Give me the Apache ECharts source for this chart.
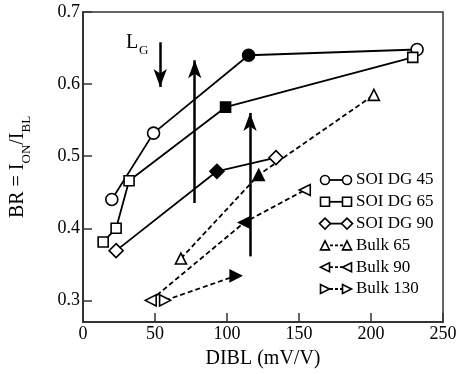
<!DOCTYPE html>
<html><head><meta charset="utf-8">
<script src="https://cdn.jsdelivr.net/npm/echarts@6/dist/echarts.min.js"></script>
<style>html,body{margin:0;padding:0;background:#fff}#c{width:460px;height:374px}</style>
</head><body><div id="c"></div>
<script>
// ---- data ----
const seriesNames = ['SOI DG 45', 'SOI DG 65', 'SOI DG 90', 'Bulk 65', 'Bulk 90', 'Bulk 130'];
const soi45X = [20, 49, 115, 232];
const soi45Y = [0.44, 0.532, 0.64, 0.648];
const soi65X = [14, 23, 32, 99, 229];
const soi65Y = [0.381, 0.40, 0.466, 0.568, 0.637];
const soi90X = [23, 93, 134];
const soi90Y = [0.369, 0.479, 0.498];
const bulk65X = [68, 122, 202];
const bulk65Y = [0.358, 0.474, 0.585];
const bulk90X = [47, 112, 154];
const bulk90Y = [0.30, 0.408, 0.453];
const bulk130X = [57, 106];
const bulk130Y = [0.30, 0.334];
const filledPoint = [2, 3, 1, 1, 1, 1];
const xTickValues = [0, 50, 100, 150, 200, 250];
const yTickValues = [0.3, 0.4, 0.5, 0.6, 0.7];
const arrowX = [77.6, 116, 53.6];
const arrowFrom = [0.435, 0.361, 0.658];
const arrowTo = [0.633, 0.560, 0.596];

// ---- styling ----
const xsAll = [soi45X, soi65X, soi90X, bulk65X, bulk90X, bulk130X];
const ysAll = [soi45Y, soi65Y, soi90Y, bulk65Y, bulk90Y, bulk130Y];
const styles = [
  {symbol: 'circle', size: 12, rotate: 0, dashed: false},
  {symbol: 'rect', size: 10, rotate: 0, dashed: false},
  {symbol: 'diamond', size: 14, rotate: 0, dashed: false},
  {symbol: 'triangle', size: 11, rotate: 0, dashed: true},
  {symbol: 'triangle', size: 11, rotate: 90, dashed: true},
  {symbol: 'triangle', size: 11, rotate: -90, dashed: true}
];
const FONT = 'Liberation Serif';

const series = seriesNames.map((name, i) => ({
  name: name,
  type: 'line',
  symbol: styles[i].symbol,
  symbolSize: styles[i].size,
  symbolRotate: styles[i].rotate,
  showAllSymbol: true,
  silent: true,
  lineStyle: {color: '#000', width: styles[i].dashed ? 1.8 : 1.8, type: styles[i].dashed ? [5, 3] : 'solid'},
  itemStyle: {color: '#fff', borderColor: '#000', borderWidth: 1.6},
  data: xsAll[i].map((x, j) => j === filledPoint[i]
    ? {value: [x, ysAll[i][j]], itemStyle: {color: '#000'}}
    : [x, ysAll[i][j]]),
  z: 3
}));

series.push({
  type: 'line', data: [], silent: true,
  markLine: {
    silent: true,
    symbol: ['none', 'arrow'],
    symbolSize: [10, 18],
    label: {show: false},
    lineStyle: {color: '#000', width: 2.5, type: 'solid'},
    data: arrowX.map((x, k) => [{coord: [x, arrowFrom[k]]}, {coord: [x, arrowTo[k]]}])
  }
});

// legend drawn as graphic
const legendTop = 180, legendStep = 21.8;
const graphics = [];
function markerShape(kind, rot, cx, cy, s) {
  const st = {fill: '#fff', stroke: '#000', lineWidth: 1.6};
  const h = s / 2;
  if (kind === 'circle') return {type: 'circle', shape: {cx: cx, cy: cy, r: h}, style: st};
  if (kind === 'rect') return {type: 'rect', shape: {x: cx - h, y: cy - h, width: s, height: s}, style: st};
  if (kind === 'diamond') return {type: 'polygon', shape: {points: [[cx, cy - h - 1], [cx + h + 1, cy], [cx, cy + h + 1], [cx - h - 1, cy]]}, style: st};
  let pts;
  if (rot === 0) pts = [[cx, cy - h], [cx + h, cy + h], [cx - h, cy + h]];
  else if (rot === 90) pts = [[cx - h, cy], [cx + h, cy - h], [cx + h, cy + h]];
  else pts = [[cx + h, cy], [cx - h, cy - h], [cx - h, cy + h]];
  return {type: 'polygon', shape: {points: pts}, style: st};
}
seriesNames.forEach((name, i) => {
  const y = legendTop + i * legendStep;
  graphics.push({type: 'line', shape: {x1: 325, y1: y, x2: 347, y2: y},
    style: {stroke: '#000', lineWidth: 1.8, lineDash: styles[i].dashed ? [3, 2] : null}, z: 10});
  graphics.push(Object.assign(markerShape(styles[i].symbol, styles[i].rotate, 325, y, 9), {z: 11}));
  graphics.push(Object.assign(markerShape(styles[i].symbol, styles[i].rotate, 347, y, 9), {z: 11}));
  graphics.push({type: 'text', x: 356, y: y, z: 11,
    style: {text: name, fontSize: 17, fontFamily: FONT, fill: '#000', verticalAlign: 'middle', align: 'left'}});
});
graphics.push({type: 'text', x: 126, y: 33, style: {text: 'L', fontSize: 20, fontFamily: FONT, fill: '#000'}});
graphics.push({type: 'text', x: 139, y: 44, style: {text: 'G', fontSize: 13, fontFamily: FONT, fill: '#000'}});

const chart = echarts.init(document.getElementById('c'), null, {renderer: 'canvas'});
chart.setOption({
  animation: false,
  backgroundColor: '#fff',
  grid: {left: 79, right: 17, top: 12, bottom: 52, show: true, borderColor: '#333', borderWidth: 1.5, backgroundColor: 'transparent'},
  xAxis: {
    type: 'value', min: 0, max: 250, interval: 50,
    name: 'DIBL (mV/V)', nameLocation: 'middle', nameGap: 27,
    nameTextStyle: {fontFamily: FONT, fontSize: 20, color: '#000'},
    axisLine: {lineStyle: {color: '#333', width: 2}},
    axisTick: {inside: true, length: 9, lineStyle: {color: '#333', width: 1.5}},
    axisLabel: {fontFamily: FONT, fontSize: 18, color: '#000', margin: 3, formatter: v => String(v)},
    splitLine: {show: false}
  },
  yAxis: {
    type: 'value', min: 0.27, max: 0.7,
    name: '{n|BR = I}{s|ON}{n|/I}{s|BL}', nameLocation: 'middle', nameGap: 50, nameRotate: 90,
    nameTextStyle: {fontFamily: FONT, color: '#000',
      rich: {
        n: {fontFamily: FONT, fontSize: 20, color: '#000', verticalAlign: 'bottom', padding: [0, 0, 5, 0]},
        s: {fontFamily: FONT, fontSize: 13, color: '#000', verticalAlign: 'bottom'}
      }},
    axisLine: {lineStyle: {color: '#333', width: 2}},
    axisTick: {inside: true, length: 9, customValues: yTickValues, lineStyle: {color: '#333', width: 1.5}},
    axisLabel: {fontFamily: FONT, fontSize: 18, color: '#000', margin: 3, customValues: yTickValues, formatter: v => v.toFixed(1)},
    splitLine: {show: false}
  },
  series: series,
  graphic: graphics
});
</script></body></html>
